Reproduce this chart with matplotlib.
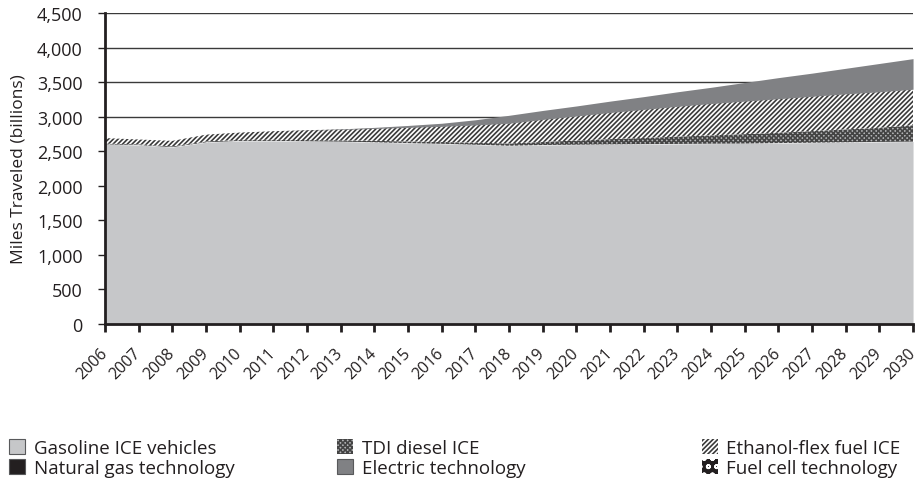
import numpy as np
import matplotlib
matplotlib.use('Agg')
import matplotlib.pyplot as plt
import matplotlib.transforms as mtransforms
from matplotlib.patches import Patch

plt.rcParams['font.family'] = ['Open Sans', 'DejaVu Sans']
plt.rcParams['hatch.linewidth'] = 1.2

# data (billions of miles)
years = list(range(2006, 2031))
gasoline = [2600, 2590, 2560, 2630, 2650, 2650, 2645, 2640, 2630, 2618, 2608, 2595, 2580,
            2590, 2595, 2600, 2603, 2606, 2610, 2612, 2618, 2624, 2630, 2635, 2640]
tdi_diesel = [10, 10, 10, 12, 14, 15, 17, 19, 21, 23, 26, 29, 33,
              45, 60, 75, 90, 105, 120, 135, 150, 168, 186, 205, 235]
ethanol = [80, 70, 80, 98, 106, 125, 143, 156, 179, 204, 226, 256, 292,
           325, 355, 385, 412, 439, 460, 478, 492, 503, 514, 520, 522]
natural_gas = [0] * 25
electric = [0, 0, 0, 0, 0, 0, 3, 8, 15, 28, 45, 75, 115,
            130, 145, 165, 185, 210, 235, 270, 305, 335, 370, 410, 443]
fuel_cell = [0] * 25

series = [
    ('Gasoline ICE vehicles', gasoline, '#c6c7c9', '#c6c7c9', None),
    ('TDI diesel ICE', tdi_diesel, '#b4b5b7', '#444444', 'xxxxxxx'),
    ('Ethanol-flex fuel ICE', ethanol, 'white', '#3a3a3a', '///////'),
    ('Natural gas technology', natural_gas, '#231f20', '#231f20', None),
    ('Electric technology', electric, '#808184', '#808184', None),
    ('Fuel cell technology', fuel_cell, '#231f20', 'white', 'oo'),
]

fig = plt.figure(figsize=(9.18, 4.85), dpi=100)
ax = fig.add_axes([0.1144, 0.3299, 0.8802, 0.6412])

x = np.array(years)
base = np.zeros(len(years))
handles = {}
for name, vals, fc, ec, hatch in series:
    top = base + np.array(vals)
    ax.fill_between(x, base, top, facecolor=fc, edgecolor=ec, hatch=hatch, linewidth=0, zorder=2)
    if hatch is None:
        handles[name] = Patch(facecolor=fc, edgecolor='#58595b', linewidth=0.8)
    else:
        handles[name] = Patch(facecolor=fc, edgecolor=ec, hatch=hatch, linewidth=0)
    base = top

ax.set_xlim(2006, 2030)
ax.set_ylim(0, 4500)
ax.set_yticks(range(0, 4501, 500))
ax.set_yticklabels([f'{v:,}' for v in range(0, 4501, 500)])
ax.set_xticks(years)
ax.set_xticklabels([str(y) for y in years], rotation=45, ha='right', va='center',
                   rotation_mode='anchor')
shift = mtransforms.ScaledTranslation(-2 / 100, 0, fig.dpi_scale_trans)
for lbl in ax.get_xticklabels():
    lbl.set_transform(lbl.get_transform() + shift)
ax.yaxis.grid(True, color='#3a3a3a', linewidth=1.0, zorder=1)
ax.set_axisbelow(True)

for s in ['top', 'right']:
    ax.spines[s].set_visible(False)
for s in ['left', 'bottom']:
    ax.spines[s].set_linewidth(2)
    ax.spines[s].set_color('#231f20')
    ax.spines[s].set_zorder(3)

ax.tick_params(axis='y', direction='out', length=5, width=1, labelsize=13, pad=11, colors='#231f20')
ax.tick_params(axis='x', direction='out', length=6, width=2, labelsize=11.5, pad=13, colors='#231f20')
ax.set_ylabel('Miles Traveled (billions)', fontsize=12.5, color='#231f20')
ax.yaxis.set_label_coords(-0.097, 0.5)

cols = [
    (['Gasoline ICE vehicles', 'Natural gas technology'], -0.002),
    (['TDI diesel ICE', 'Electric technology'], 0.355),
    (['Ethanol-flex fuel ICE', 'Fuel cell technology'], 0.752),
]
for names, xpos in cols:
    leg = fig.legend([handles[n] for n in names], names, loc='lower left',
                     bbox_to_anchor=(xpos, -0.008), frameon=False, fontsize=13.5,
                     handlelength=0.85, handleheight=0.85, handletextpad=0.45,
                     labelspacing=0.1, borderaxespad=0.2)
    for t in leg.get_texts():
        t.set_color('#231f20')

fig.savefig('out.png', dpi=100)
